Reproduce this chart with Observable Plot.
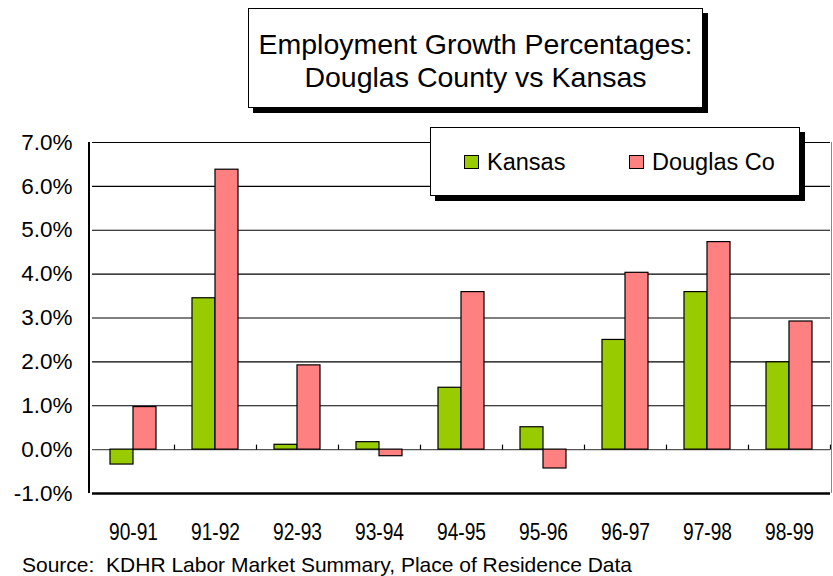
<!DOCTYPE html>
<html>
<head>
<meta charset="utf-8">
<script src="https://cdn.jsdelivr.net/npm/d3@7"></script>
<script src="https://cdn.jsdelivr.net/npm/@observablehq/plot@0.6"></script>
<style>
  html, body { margin: 0; padding: 0; background: #fff; }
  #wrap { position: relative; width: 833px; height: 576px; font-family: "Liberation Sans", Arial, sans-serif; overflow: hidden; }
  #chart { position: absolute; left: 0; top: 0; }
  .box { position: absolute; background: #fff; border: 1px solid #000; box-shadow: 5px 5px 0 #000; box-sizing: border-box; }
  #title { left: 248px; top: 8px; width: 455px; height: 100px; font-size: 28.5px; line-height: 33px; text-align: center; padding-top: 19px; color: #000; white-space: nowrap; }
  #legend { left: 430px; top: 127px; width: 370px; height: 69px; font-size: 23.5px; color: #000; }
  .sw { position: absolute; width: 15px; height: 14px; border: 1px solid #000; box-sizing: border-box; }
  .lt { position: absolute; line-height: 26px; white-space: nowrap; }
  #source { position: absolute; left: 22px; top: 553px; font-size: 21px; color: #000; white-space: nowrap; }
</style>
</head>
<body>
<div id="wrap">
  <div id="chart"></div>
  <div id="title" class="box">Employment Growth Percentages:<br>Douglas County vs Kansas</div>
  <div id="legend" class="box"></div>
  <div id="source">Source:&nbsp; KDHR Labor Market Summary, Place of Residence Data</div>
</div>
<script>
const periods = ["90-91","91-92","92-93","93-94","94-95","95-96","96-97","97-98","98-99"];
const series = ["Kansas","Douglas Co"];
const kansas = [-0.34, 3.45, 0.11, 0.17, 1.41, 0.51, 2.50, 3.59, 1.99];
const douglas = [0.97, 6.38, 1.92, -0.15, 3.59, -0.43, 4.03, 4.73, 2.92];
const colors = ["#99CC00", "#FF8080"];
const yTicks = [-1, 0, 1, 2, 3, 4, 5, 6, 7];

const data = [];
periods.forEach((p, i) => {
  data.push({period: p, series: series[0], value: kansas[i]});
  data.push({period: p, series: series[1], value: douglas[i]});
});

const tickSymbol = { draw(context) { context.moveTo(0, 0); context.lineTo(0, -5); } };

const plot = Plot.plot({
  width: 833,
  height: 576,
  marginTop: 142,
  marginLeft: 89,
  marginRight: 1,
  marginBottom: 83,
  style: { fontFamily: '"Liberation Sans", Arial, sans-serif', fontSize: "22.5px", color: "#000", background: "transparent" },
  fx: { domain: periods, padding: 0, label: null, axis: "bottom", tickSize: 0, tickPadding: 30 },
  x: { domain: series, paddingInner: 0, paddingOuter: 0.72, axis: null },
  y: { domain: [-1, 7], ticks: yTicks, tickFormat: d => d.toFixed(1) + "%", tickSize: 0, tickPadding: 20, label: null },
  color: { domain: series, range: colors },
  marks: [
    Plot.ruleY(yTicks.filter(d => d > 0), { stroke: "#000", strokeWidth: 1.2 }),
    Plot.ruleY([0], { stroke: "#555", strokeWidth: 1.2 }),
    Plot.dot(periods, { fx: d => d, y: () => 0, frameAnchor: "right", symbol: tickSymbol, stroke: "#000", fill: "none", strokeWidth: 1.2 }),
    Plot.barY(data, { fx: "period", x: "series", y: "value", fill: "series", stroke: "#000", strokeWidth: 1.2 }),
    Plot.ruleY([-1], { stroke: "#000", strokeWidth: 2.5 })
  ]
});
document.getElementById("chart").appendChild(plot);

const svg = d3.select(plot);
// condensed category labels, as in the reference
svg.selectAll('g[aria-label^="fx-axis"] text')
  .style("font-size", "23px")
  .attr("textLength", 49)
  .attr("lengthAdjust", "spacingAndGlyphs");

// frame: left black axis line, right gray line
const yScale = plot.scale("y");
const yTop = yScale.apply(7), yBot = yScale.apply(-1);
svg.append("line").attr("x1", 89).attr("x2", 89).attr("y1", yTop).attr("y2", yBot).attr("stroke", "#000").attr("stroke-width", 2);
svg.append("line").attr("x1", 831.5).attr("x2", 831.5).attr("y1", yTop).attr("y2", yBot).attr("stroke", "#888").attr("stroke-width", 1);

// legend
const legend = document.getElementById("legend");
const legendPos = [{sw: 33, tx: 56}, {sw: 198, tx: 221}];
series.forEach((s, i) => {
  const sw = document.createElement("div");
  sw.className = "sw";
  sw.style.left = legendPos[i].sw + "px";
  sw.style.top = "27px";
  sw.style.background = colors[i];
  legend.appendChild(sw);
  const t = document.createElement("div");
  t.className = "lt";
  t.style.left = legendPos[i].tx + "px";
  t.style.top = "21px";
  t.textContent = s;
  legend.appendChild(t);
});
</script>
</body>
</html>
